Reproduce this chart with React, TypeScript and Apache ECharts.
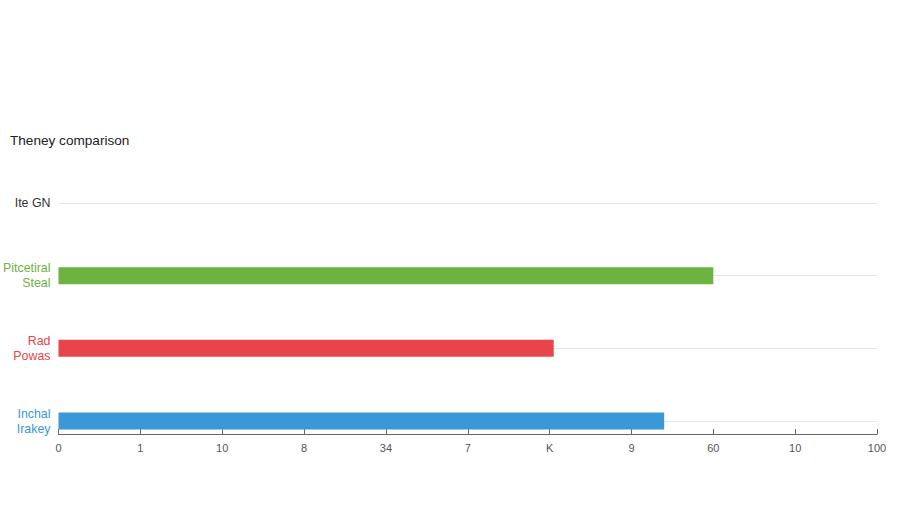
import { useEffect, useRef } from 'react';
import * as echarts from 'echarts';

// categories, top to bottom
const categories = ['Ite GN', 'Pitcetiral\nSteal', 'Rad\nPowas', 'Inchal\nIrakey'];
// bar values (first row has no bar)
const values = [null, 80, 60.5, 74];
const barColors = ['#333333', '#6db33f', '#e8444a', '#3a98d8'];
// x tick labels as printed in the picture
const xTickLabels = ['0', '1', '10', '8', '34', '7', 'K', '9', '60', '10', '100'];

export default function App() {
  const chartRef = useRef<HTMLDivElement>(null);

  useEffect(() => {
    if (!chartRef.current) return;
    const chart = echarts.init(chartRef.current, undefined, { renderer: 'svg' });

    const option: echarts.EChartsOption = {
      animation: false,
      backgroundColor: '#ffffff',
      textStyle: { fontFamily: 'Liberation Sans, Arial, sans-serif' },
      title: {
        text: 'Theney comparison',
        left: 10,
        top: 133,
        padding: 0,
        textStyle: { fontSize: 13.6, fontWeight: 'normal', color: '#222222' },
      },
      grid: { left: 58, right: 23, top: 203, bottom: 85, containLabel: false },
      xAxis: {
        type: 'value',
        min: 0,
        max: 100,
        interval: 10,
        offset: 13,
        axisLine: { show: true, lineStyle: { color: '#666666', width: 1 } },
        axisTick: { show: true, inside: true, length: 5, lineStyle: { color: '#666666' } },
        splitLine: { show: false },
        axisLabel: {
          color: '#555555',
          fontSize: 11,
          margin: 8,
          formatter: (v: number) => xTickLabels[Math.round(v / 10)] ?? '',
        },
      },
      yAxis: {
        type: 'category',
        data: categories,
        inverse: true,
        boundaryGap: false,
        axisLine: { show: false },
        axisTick: { show: false },
        splitLine: { show: true, lineStyle: { color: '#e4e4e4', width: 1 } },
        axisLabel: {
          fontSize: 12.4,
          margin: 8,
          lineHeight: 15,
          color: ((_v: string, i: number) => barColors[i]) as any,
        },
      },
      series: [
        {
          type: 'bar',
          barWidth: 17,
          data: values.map((v, i) => ({
            value: v,
            itemStyle: { color: barColors[i] },
          })),
        },
      ],
    };

    chart.setOption(option);
    return () => chart.dispose();
  }, []);

  return (
    <div
      ref={chartRef}
      style={{ position: 'fixed', left: 0, top: 0, width: 900, height: 506 }}
    />
  );
}
